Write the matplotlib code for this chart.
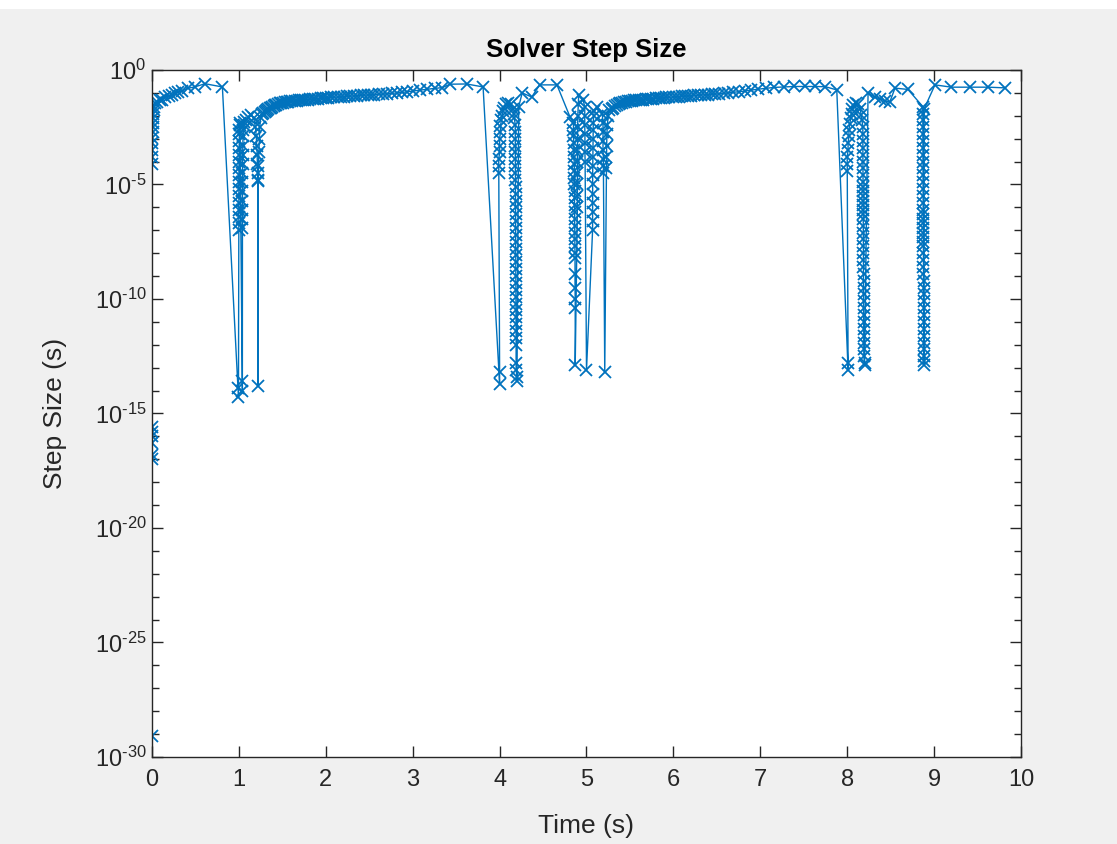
import matplotlib
matplotlib.use("Agg")
import matplotlib.pyplot as plt
import numpy as np
from matplotlib.patches import Rectangle
from matplotlib.ticker import FixedLocator, FixedFormatter, NullFormatter

plt.rcParams['font.family'] = ['Liberation Sans', 'DejaVu Sans']
plt.rcParams['mathtext.fontset'] = 'custom'
plt.rcParams['mathtext.rm'] = 'Liberation Sans'
plt.rcParams['mathtext.it'] = 'Liberation Sans:italic'
plt.rcParams['mathtext.bf'] = 'Liberation Sans:bold'
plt.rcParams['mathtext.default'] = 'regular'

# ---------------- data (time in s, step size given as log10 exponent) ----------------
t_start = [0.0, 0.0, 0.0, 0.0, 0.0, 0.0, 0.0,
           0.001, 0.002, 0.003, 0.004, 0.005, 0.006, 0.008, 0.010, 0.012, 0.015, 0.018, 0.022,
           0.035, 0.06, 0.09, 0.115, 0.15, 0.19, 0.23, 0.27, 0.30, 0.35, 0.41, 0.49, 0.61, 0.81]
e_start = [-29.1, -17.0, -16.8, -16.3, -16.0, -15.8, -15.6,
           -4.1, -3.8, -3.5, -3.2, -2.95, -2.7, -2.5, -2.3, -2.1, -1.9, -1.75, -1.6,
           -1.44, -1.38, -1.33, -1.3, -1.2, -1.13, -1.09, -1.02, -0.96, -0.9, -0.8, -0.74, -0.6, -0.74]

t_ev1 = [0.99, 0.995, 1.0, 1.0, 1.0, 1.0, 1.0, 1.0, 1.0, 1.0,
         1.001, 1.001, 1.001, 1.002, 1.002, 1.003, 1.004, 1.006, 1.008, 1.011,
         1.04, 1.04, 1.04, 1.04, 1.04, 1.04, 1.041, 1.041, 1.041,
         1.042, 1.043, 1.045, 1.048, 1.052, 1.057, 1.063,
         1.08, 1.11, 1.14, 1.17, 1.19, 1.20, 1.205, 1.21, 1.212, 1.215, 1.218, 1.22,
         1.22, 1.225, 1.23, 1.235, 1.24, 1.25, 1.27]
e_ev1 = [-13.9, -14.3, -7.0, -6.7, -6.4, -6.1, -5.8, -5.5, -5.2, -4.9,
         -4.6, -4.3, -4.0, -3.7, -3.4, -3.1, -2.8, -2.6, -2.4, -2.3,
         -14.0, -13.6, -6.9, -6.5, -6.1, -5.7, -5.3, -4.9, -4.5,
         -4.1, -3.7, -3.3, -2.9, -2.6, -2.4, -2.25,
         -2.2, -2.05, -1.95, -2.1, -2.5, -2.9, -3.3, -3.7, -4.1, -4.5, -4.85, -13.8,
         -4.8, -4.2, -3.6, -3.0, -2.5, -2.1, -1.9]

t_rise1 = [1.28, 1.295, 1.31, 1.325, 1.34, 1.355, 1.37, 1.385, 1.40, 1.415, 1.43, 1.45,
           1.47, 1.49, 1.51, 1.53, 1.55, 1.57, 1.59, 1.615, 1.64, 1.665, 1.69, 1.715,
           1.74, 1.765, 1.79, 1.82, 1.85, 1.88, 1.91, 1.94, 1.97, 2.00, 2.03, 2.065,
           2.10, 2.135, 2.17, 2.205, 2.24, 2.28, 2.32, 2.36, 2.40, 2.44, 2.48, 2.52,
           2.56, 2.61, 2.66, 2.71, 2.76, 2.82, 2.88, 2.94, 3.00, 3.08, 3.17, 3.26,
           3.34, 3.43, 3.62, 3.81]
e_rise1 = [-1.88, -1.84, -1.8, -1.76, -1.72, -1.68, -1.64, -1.6, -1.57, -1.54, -1.51, -1.48,
           -1.46, -1.44, -1.42, -1.4, -1.39, -1.38, -1.37, -1.36, -1.35, -1.34, -1.33, -1.32,
           -1.31, -1.3, -1.29, -1.28, -1.27, -1.26, -1.25, -1.24, -1.23, -1.22, -1.21, -1.2,
           -1.19, -1.18, -1.17, -1.16, -1.15, -1.14, -1.13, -1.12, -1.11, -1.1, -1.09, -1.08,
           -1.07, -1.06, -1.05, -1.04, -1.02, -1.0, -0.98, -0.95, -0.92, -0.88, -0.84, -0.8,
           -0.77, -0.62, -0.61, -0.74]

t_ev2 = [4.00, 4.00, 3.99, 3.99, 3.99, 4.00, 4.00, 4.00, 4.01, 4.01, 4.02, 4.03, 4.04, 4.05,
         4.07, 4.10, 4.13, 4.15, 4.16, 4.17,
         4.180, 4.180, 4.180, 4.181, 4.181, 4.181, 4.182, 4.182, 4.182, 4.183, 4.183,
         4.183, 4.184, 4.184, 4.184, 4.185, 4.185, 4.185, 4.186, 4.186, 4.186, 4.187,
         4.187, 4.187, 4.188, 4.188, 4.188, 4.189, 4.189, 4.189, 4.190, 4.190, 4.190,
         4.19, 4.19, 4.20, 4.20,
         4.22, 4.26, 4.37, 4.46, 4.66, 4.81]
e_ev2 = [-13.7, -13.2, -4.5, -4.2, -3.9, -3.6, -3.3, -3.0, -2.7, -2.45, -2.2, -2.0, -1.8, -1.65,
         -1.5, -1.45, -1.5, -1.7, -1.9, -2.1,
         -2.4, -2.7, -3.0, -3.3, -3.6, -3.9, -4.2, -4.5, -4.8, -5.1, -5.4,
         -5.7, -6.0, -6.3, -6.6, -6.9, -7.2, -7.5, -7.8, -8.1, -8.4, -8.7,
         -9.0, -9.3, -9.6, -9.9, -10.2, -10.5, -10.8, -11.1, -11.4, -11.7, -12.0,
         -12.8, -13.1, -13.4, -13.6,
         -1.6, -1.0, -1.18, -0.65, -0.65, -2.05]

t_ev2b = [4.85, 4.85, 4.85, 4.855, 4.855, 4.855, 4.86, 4.86, 4.86, 4.86,
          4.862, 4.862, 4.862, 4.864, 4.864, 4.864, 4.866, 4.866, 4.866, 4.868,
          4.868, 4.868, 4.868, 4.87, 4.87, 4.87,
          4.895, 4.895, 4.895, 4.895, 4.896, 4.896, 4.897, 4.898, 4.90, 4.905, 4.91,
          4.96, 4.98, 4.98, 4.98, 4.982, 4.982, 4.982, 4.984, 5.00,
          5.07, 5.07, 5.07, 5.07, 5.07, 5.071, 5.071, 5.072, 5.072, 5.073, 5.074, 5.076,
          5.078, 5.082, 5.09, 5.12,
          5.18, 5.19, 5.19, 5.19, 5.19, 5.195, 5.195, 5.195, 5.21,
          5.23, 5.23, 5.232, 5.235, 5.24, 5.25, 5.26]
e_ev2b = [-2.3, -2.6, -2.9, -3.2, -3.5, -3.8, -4.1, -4.4, -4.7, -5.0,
          -5.3, -5.6, -5.9, -6.2, -6.5, -6.8, -7.1, -7.4, -7.7, -8.0,
          -8.2, -8.9, -9.5, -10.0, -10.4, -12.9,
          -6.0, -5.5, -5.0, -4.5, -4.0, -3.5, -3.0, -2.5, -2.0, -1.5, -1.1,
          -1.3, -1.6, -2.0, -2.4, -2.8, -3.2, -3.6, -4.0, -13.1,
          -7.0, -6.6, -6.2, -5.8, -5.4, -5.0, -4.6, -4.2, -3.8, -3.4, -3.0, -2.6,
          -2.3, -2.0, -1.8, -1.6,
          -1.9, -2.3, -2.7, -3.1, -3.5, -3.9, -4.2, -4.5, -13.2,
          -4.3, -3.8, -3.3, -2.8, -2.4, -2.0, -1.75]

t_rise2 = [5.29, 5.31, 5.33, 5.35, 5.37, 5.39, 5.41, 5.43, 5.45, 5.475, 5.50, 5.525,
           5.55, 5.575, 5.60, 5.625, 5.65, 5.68, 5.71, 5.74, 5.77, 5.80, 5.83, 5.86,
           5.89, 5.92, 5.955, 5.99, 6.025, 6.06, 6.095, 6.13, 6.165, 6.20, 6.24, 6.28,
           6.32, 6.36, 6.40, 6.44, 6.48, 6.53, 6.58, 6.63, 6.69, 6.75, 6.82, 6.89,
           6.97, 7.06, 7.16, 7.27, 7.39, 7.51, 7.63, 7.75, 7.88]
e_rise2 = [-1.7, -1.64, -1.58, -1.53, -1.49, -1.46, -1.43, -1.41, -1.39, -1.37, -1.35, -1.34,
           -1.33, -1.32, -1.31, -1.3, -1.29, -1.28, -1.27, -1.26, -1.25, -1.24, -1.23, -1.22,
           -1.21, -1.2, -1.19, -1.18, -1.17, -1.16, -1.15, -1.14, -1.13, -1.12, -1.11, -1.1,
           -1.09, -1.08, -1.07, -1.06, -1.05, -1.04, -1.02, -1.0, -0.98, -0.95, -0.92, -0.88,
           -0.84, -0.8, -0.76, -0.74, -0.72, -0.72, -0.72, -0.73, -0.87]

t_ev3 = [8.01, 8.01, 8.00, 8.00, 8.00, 8.01, 8.01, 8.02, 8.02, 8.03, 8.04, 8.05, 8.06, 8.07,
         8.10, 8.13, 8.15, 8.16, 8.17,
         8.180, 8.180, 8.180, 8.181, 8.181, 8.181, 8.182, 8.182, 8.182, 8.183, 8.183, 8.183,
         8.184, 8.184, 8.184, 8.185, 8.185, 8.185, 8.186, 8.186, 8.186, 8.187, 8.187, 8.187,
         8.188, 8.188, 8.188, 8.189, 8.189, 8.189, 8.190, 8.190, 8.190, 8.190, 8.190,
         8.191, 8.191, 8.20, 8.20,
         8.24, 8.32, 8.38, 8.43, 8.49, 8.55, 8.70]
e_ev3 = [-13.1, -12.8, -4.4, -4.1, -3.8, -3.5, -3.2, -2.9, -2.6, -2.35, -2.1, -1.9, -1.7, -1.55,
         -1.45, -1.5, -1.7, -1.95, -2.2,
         -2.5, -2.8, -3.1, -3.4, -3.7, -4.0, -4.3, -4.6, -4.9, -5.1, -5.3, -5.5,
         -5.7, -5.9, -6.1, -6.3, -6.5, -6.8, -7.1, -7.4, -7.7, -8.0, -8.3, -8.6,
         -8.9, -9.2, -9.5, -9.8, -10.1, -10.4, -10.7, -11.0, -11.3, -11.6,
         -11.9, -12.2, -12.5, -12.8, -12.9,
         -1.0, -1.2, -1.25, -1.35, -1.4, -0.79, -0.85]

t_ev3b = [8.87, 8.870, 8.870, 8.870, 8.871, 8.871, 8.871, 8.872, 8.872, 8.872, 8.873, 8.873,
          8.873, 8.874, 8.874, 8.874, 8.875, 8.875, 8.875, 8.876, 8.876, 8.876, 8.877, 8.877,
          8.877, 8.878, 8.878, 8.878, 8.879, 8.879, 8.879, 8.880, 8.880, 8.880, 8.880, 8.881,
          8.881, 8.881, 8.881, 8.882, 8.882, 8.882, 8.885]
e_ev3b = [-1.6, -1.9, -2.2, -2.5, -2.8, -3.1, -3.4, -3.7, -4.0, -4.3, -4.6, -4.9,
          -5.2, -5.5, -5.8, -6.1, -6.3, -6.5, -6.7, -6.9, -7.1, -7.3, -7.5, -7.7,
          -8.0, -8.3, -8.6, -8.9, -9.2, -9.5, -9.8, -10.1, -10.4, -10.7, -11.0, -11.3,
          -11.6, -11.9, -12.2, -12.5, -12.7, -12.9, -1.7]

t_end = [9.01, 9.20, 9.41, 9.62, 9.82]
e_end = [-0.65, -0.75, -0.75, -0.75, -0.78]

x_ticks = [0, 1, 2, 3, 4, 5, 6, 7, 8, 9, 10]
y_major_exp = [-30, -25, -20, -15, -10, -5, 0]

# ---------------- assemble ----------------
t_all = np.concatenate([t_start, t_ev1, t_rise1, t_ev2, t_ev2b, t_rise2, t_ev3, t_ev3b, t_end])
e_all = np.concatenate([e_start, e_ev1, e_rise1, e_ev2, e_ev2b, e_rise2, e_ev3, e_ev3b, e_end])
step = 10.0 ** e_all

W, H, DPI = 1117, 844, 100
fig = plt.figure(figsize=(W / DPI, H / DPI), dpi=DPI, facecolor='#f0f0f0')
fig.patches.append(Rectangle((0, 1 - 9 / H), 1, 9 / H, transform=fig.transFigure,
                             facecolor='white', edgecolor='none', zorder=0))

ax = fig.add_axes([152 / W, 1 - 757 / H, (1021 - 152) / W, (757 - 70) / H])
ax.set_facecolor('white')

ax.plot(t_all, step, color='#0072BD', lw=1.0, marker='x', ms=8.5, mew=1.3)

ax.set_yscale('log')
ax.set_xlim(0, 10)
ax.set_ylim(1e-30, 1e0)

ax.xaxis.set_major_locator(FixedLocator(x_ticks))
ax.set_xticklabels([str(v) for v in x_ticks])
ax.yaxis.set_major_locator(FixedLocator([10.0 ** p for p in y_major_exp]))
ylabels = [r'$10^{%s}$' % (('\u2010%d' % -p) if p < 0 else '%d' % p) for p in y_major_exp]
ax.yaxis.set_major_formatter(FixedFormatter(ylabels))
ax.yaxis.set_minor_locator(FixedLocator([10.0 ** p for p in range(-30, 1)]))
ax.yaxis.set_minor_formatter(NullFormatter())
ax.xaxis.set_minor_locator(FixedLocator([]))

c = '#262626'
for s in ax.spines.values():
    s.set_color(c)
    s.set_linewidth(1.0)
ax.tick_params(axis='both', which='major', direction='in', length=8, width=1.0,
               colors=c, labelsize=17, top=True, right=True)
ax.tick_params(axis='x', which='major', pad=8.5)
ax.tick_params(axis='y', which='major', pad=4)
ax.tick_params(axis='y', which='minor', direction='in', length=5, width=1.0,
               colors=c, right=True, left=True)

ax.set_title('Solver Step Size', fontsize=18.5, fontweight='bold', color='black', pad=9)
ax.set_xlabel('Time (s)', fontsize=19, color=c)
ax.set_ylabel('Step Size (s)', fontsize=19, color=c)
ax.xaxis.set_label_coords(0.5, -(826 - 757) / 687, transform=ax.transAxes)
ax.yaxis.set_label_coords((55 - 152) / 869, 0.5, transform=ax.transAxes)
ax.xaxis.label.set_va('center')
ax.yaxis.label.set_va('center')

fig.savefig('out.png', dpi=DPI, facecolor=fig.get_facecolor())
